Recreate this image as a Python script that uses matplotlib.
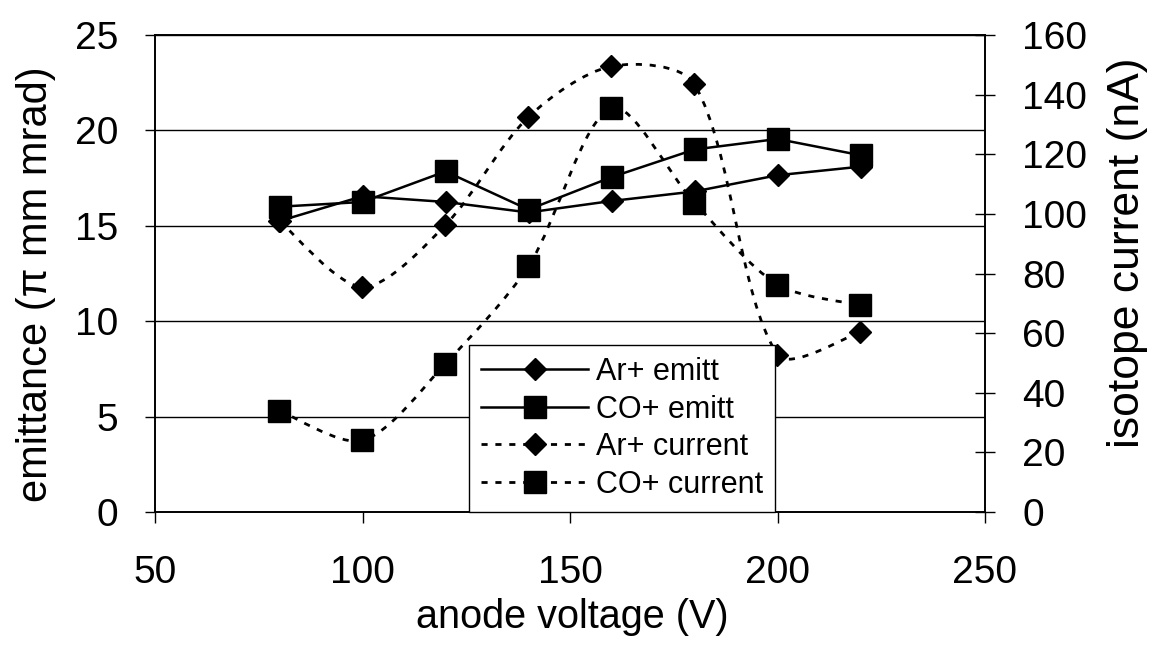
import numpy as np
import matplotlib
matplotlib.use("Agg")
import matplotlib.pyplot as plt
from matplotlib.path import Path
from matplotlib.patches import PathPatch
from matplotlib.lines import Line2D

plt.rcParams['font.family'] = ['Liberation Sans', 'DejaVu Sans']

# ---- data ----
voltage = [80, 100, 120, 140, 160, 180, 200, 220]
ar_emitt = [15.25, 16.55, 16.25, 15.7, 16.3, 16.8, 17.65, 18.1]
co_emitt = [16.0, 16.25, 17.85, 15.85, 17.55, 19.0, 19.55, 18.7]
ar_current = [97.6, 75.5, 96.3, 132.5, 149.5, 143.5, 52.8, 60.4]
co_current = [34.0, 24.0, 49.8, 82.5, 135.5, 103.8, 76.3, 69.4]

x_ticks = [50, 100, 150, 200, 250]
left_ticks = [0, 5, 10, 15, 20, 25]
right_ticks = [0, 20, 40, 60, 80, 100, 120, 140, 160]

labels = ["Ar+ emitt", "CO+ emitt", "Ar+ current", "CO+ current"]

# ---- figure ----
fig = plt.figure(figsize=(11.54, 6.64), dpi=100)
ax = fig.add_axes([155/1154, 1 - 512/664, (985-155)/1154, (512-35)/664])
ax2 = ax.twinx()

FS = 28
LW = 1.8
DOT = (0, (2.2, 2.8))

ax.set_xlim(50, 250)
ax.set_ylim(0, 25)
ax2.set_ylim(0, 160)
ax.set_xticks(x_ticks)
ax.set_yticks(left_ticks)
ax2.set_yticks(right_ticks)

for yv in left_ticks[1:]:
    ax.axhline(yv, color='black', lw=1.0, zorder=0.5)

for s in ax.spines.values():
    s.set_linewidth(1.2)
for s in ax2.spines.values():
    s.set_linewidth(1.2)

ax.tick_params(axis='x', direction='out', length=8, width=1, labelsize=FS, pad=23)
ax.tick_params(axis='y', direction='out', length=7.2, width=1, labelsize=FS, pad=19.5)
ax2.tick_params(axis='y', direction='inout', length=14.4, width=1, labelsize=FS, pad=19.5)


def smooth_path(axis, xs, ys, k=0.3):
    pts = np.column_stack([xs, ys]).astype(float)
    disp = axis.transData.transform(pts)
    n = len(pts)

    def dist(i, j):
        return float(np.hypot(*(disp[j] - disp[i])))

    verts = [pts[0]]
    codes = [Path.MOVETO]
    for i in range(n - 1):
        i0 = max(i - 1, 0)
        i3 = min(i + 2, n - 1)
        d01 = dist(i0, i)
        d12 = dist(i, i + 1)
        d23 = dist(i + 1, i3)
        f1 = k * d12 / (d01 + d12) if d01 > 0 else k * 0.5
        f2 = k * d12 / (d12 + d23) if d23 > 0 else k * 0.5
        c1 = pts[i] + (pts[i + 1] - pts[i0]) * f1
        c2 = pts[i + 1] - (pts[i3] - pts[i]) * f2
        verts += [c1, c2, pts[i + 1]]
        codes += [Path.CURVE4] * 3
    return Path(verts, codes)


# solid emittance lines (left axis)
ax.plot(voltage, ar_emitt, color='black', lw=LW, marker='D', ms=11.5, zorder=3)
ax.plot(voltage, co_emitt, color='black', lw=LW, marker='s', ms=16, zorder=3)

# smoothed dotted current lines (right axis)
for ys, mk, ms in [(ar_current, 'D', 11.5), (co_current, 's', 16)]:
    patch = PathPatch(smooth_path(ax2, voltage, ys), fill=False, edgecolor='black',
                      lw=2.0, linestyle=DOT, zorder=2)
    ax2.add_patch(patch)
    ax2.plot(voltage, ys, linestyle='none', marker=mk, ms=ms, color='black', zorder=3)

handles = [
    Line2D([], [], color='black', lw=LW, marker='D', ms=11.5),
    Line2D([], [], color='black', lw=LW, marker='s', ms=16),
    Line2D([], [], color='black', lw=2.0, linestyle=DOT, marker='D', ms=11.5),
    Line2D([], [], color='black', lw=2.0, linestyle=DOT, marker='s', ms=16),
]
leg = ax2.legend(handles, labels, loc='lower left', bbox_to_anchor=((469-155)/830, 0.0),
                 borderaxespad=0, fontsize=22, frameon=True, fancybox=False,
                 edgecolor='black', framealpha=1, handlelength=3.5, handletextpad=0.25,
                 labelspacing=0.25, borderpad=0.4, markerscale=1.0)
leg.get_frame().set_linewidth(1.0)
leg.set_zorder(10)

fig.text(572/1154, 1 - 617/664, "anode voltage (V)", fontsize=28.5, ha='center', va='center')
fig.text(36/1154, 1 - 284/664, "emittance (π mm mrad)", fontsize=30, ha='center', va='center',
         rotation=90)
fig.text(1128/1154, 1 - 253/664, "isotope current (nA)", fontsize=32, ha='center', va='center',
         rotation=90)

fig.savefig("out.png", dpi=100)
